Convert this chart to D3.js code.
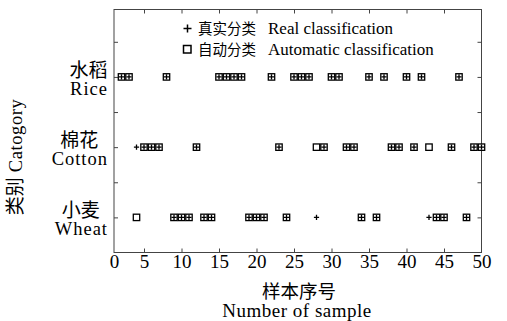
<!DOCTYPE html>
<html>
<head>
<meta charset="utf-8">
<script src="https://cdn.jsdelivr.net/npm/d3@7"></script>
<style>
  html, body { margin: 0; padding: 0; background: #fff; }
  svg { display: block; }
</style>
</head>
<body>
<svg id="chart" width="507" height="321"></svg>
<script>
// ---- data ----
const categories = ["Wheat", "Cotton", "Rice"];
const categoriesZh = ["小麦", "棉花", "水稻"];
const categoryLevel = [1, 2, 3];
const sampleIds = [2,3,4,5,6,7,8,9,10,11,12,13,14,15,16,17,18,19,20,21,22,23,24,25,26,
                   27,28,29,30,31,32,33,34,35,36,37,38,39,40,41,42,43,44,45,46,47,48,49,50];
const realClass = ["Rice","Rice","Cotton","Cotton","Cotton","Cotton","Rice","Wheat","Wheat","Wheat",
                   "Cotton","Wheat","Wheat","Rice","Rice","Rice","Rice","Wheat","Wheat","Wheat",
                   "Rice","Cotton","Wheat","Rice","Rice","Rice","Wheat","Cotton","Rice","Rice",
                   "Cotton","Cotton","Wheat","Rice","Wheat","Rice","Cotton","Cotton","Rice","Cotton",
                   "Rice","Wheat","Wheat","Wheat","Cotton","Rice","Wheat","Cotton","Cotton"];
const autoClass = ["Rice","Rice","Wheat","Cotton","Cotton","Cotton","Rice","Wheat","Wheat","Wheat",
                   "Cotton","Wheat","Wheat","Rice","Rice","Rice","Rice","Wheat","Wheat","Wheat",
                   "Rice","Cotton","Wheat","Rice","Rice","Rice","Cotton","Cotton","Rice","Rice",
                   "Cotton","Cotton","Wheat","Rice","Wheat","Rice","Cotton","Cotton","Rice","Cotton",
                   "Rice","Cotton","Wheat","Wheat","Cotton","Rice","Wheat","Cotton","Cotton"];
const xTickValues = [1, 5, 10, 15, 20, 25, 30, 35, 40, 45, 50];
const xTickLabels = ["0", "5", "10", "15", "20", "25", "30", "35", "40", "45", "50"];
const yTickValues = [1, 1.5, 2, 2.5, 3, 3.5];
const legendZh = ["真实分类", "自动分类"];
const legendEn = ["Real classification", "Automatic classification"];

(function () {
// ---- layout ----
const svg = d3.select("#chart");
const pL = 114, pR = 481.5, pT = 9.5, pB = 252.5;
const serif = "'Liberation Serif', 'Times New Roman', serif";
const cjk = "'Noto Sans CJK SC', sans-serif";
const axisColor = "#444";

const x = d3.scaleLinear().domain([1, 50]).range([pL, pR]);
const y = d3.scaleLinear().domain([0.5, 3.96]).range([pB, pT]);
const levelOf = c => categoryLevel[categories.indexOf(c)];

// frame
svg.append("rect").attr("x", pL).attr("y", pT)
  .attr("width", pR - pL).attr("height", pB - pT)
  .attr("fill", "none").attr("stroke", axisColor).attr("stroke-width", 1);

function styleAxis(g) {
  g.select(".domain").remove();
  g.selectAll(".tick line").attr("stroke", axisColor).attr("stroke-width", 1);
}

// bottom axis
const gx = svg.append("g").attr("transform", `translate(0,${pB})`)
  .call(d3.axisBottom(x).tickValues(xTickValues)
    .tickFormat((d, i) => xTickLabels[i]).tickSize(-4).tickSizeOuter(0).tickPadding(1.5));
styleAxis(gx);
gx.selectAll(".tick text").attr("font-family", serif).attr("font-size", 19)
  .attr("fill", "#000");
gx.selectAll(".tick").filter(d => d === 1 || d === 50).select("line").remove();

// top axis
const gt = svg.append("g").attr("transform", `translate(0,${pT})`)
  .call(d3.axisTop(x).tickValues(xTickValues.slice(1, -1)).tickFormat("").tickSize(-4).tickSizeOuter(0));
styleAxis(gt);

// left / right axes
const gl = svg.append("g").attr("transform", `translate(${pL},0)`)
  .call(d3.axisLeft(y).tickValues(yTickValues).tickFormat("").tickSize(-4).tickSizeOuter(0));
styleAxis(gl);
const gr = svg.append("g").attr("transform", `translate(${pR},0)`)
  .call(d3.axisRight(y).tickValues(yTickValues).tickFormat("").tickSize(-4).tickSizeOuter(0));
styleAxis(gr);

// category labels
categories.forEach((c, i) => {
  const yy = y(categoryLevel[i]);
  const en = svg.append("text").attr("x", 108).attr("y", yy + 18)
    .attr("text-anchor", "end").attr("font-family", serif).attr("font-size", 18.5)
    .attr("letter-spacing", 1).text(c);
  const w = en.node().getComputedTextLength();
  svg.append("text").attr("x", 108 - w / 2 - 0.5).attr("y", yy)
    .attr("text-anchor", "middle").attr("font-family", cjk).attr("font-size", 19)
    .text(categoriesZh[i]);
});

// y title
const yt = svg.append("text").attr("transform", "translate(22,157) rotate(-90)")
  .attr("text-anchor", "middle");
yt.append("tspan").attr("font-family", cjk).attr("font-size", 19).text("类别");
yt.append("tspan").attr("font-family", serif).attr("font-size", 18.5).attr("dx", 5)
  .attr("letter-spacing", 0.6).text("Catogory");

// x title
svg.append("text").attr("x", 299).attr("y", 298).attr("text-anchor", "middle")
  .attr("font-family", cjk).attr("font-size", 18.5).text("样本序号");
svg.append("text").attr("x", 297).attr("y", 316.5).attr("text-anchor", "middle")
  .attr("font-family", serif).attr("font-size", 19).attr("letter-spacing", 0.5)
  .text("Number of sample");

// markers
const sq = 6.4, pl = 2.6;
const autoPts = sampleIds.map((s, i) => ({ s, c: autoClass[i] }));
const realPts = sampleIds.map((s, i) => ({ s, c: realClass[i] }));

svg.append("g").selectAll("rect").data(autoPts).join("rect")
  .attr("x", d => x(d.s) - sq / 2).attr("y", d => y(levelOf(d.c)) - sq / 2)
  .attr("width", sq).attr("height", sq)
  .attr("fill", "#fff").attr("stroke", "#000").attr("stroke-width", 1.3);

svg.append("g").selectAll("path").data(realPts).join("path")
  .attr("d", d => {
    const cx = x(d.s), cy = y(levelOf(d.c));
    return `M${cx - pl},${cy}H${cx + pl}M${cx},${cy - pl}V${cy + pl}`;
  })
  .attr("stroke", "#000").attr("stroke-width", 1.3).attr("fill", "none");

// legend
const lg = svg.append("g");
lg.append("path").attr("d", "M183.5,28.5H191.5M187.5,24.5V32.5")
  .attr("stroke", "#000").attr("stroke-width", 1.5);
lg.append("rect").attr("x", 183.5).attr("y", 45.5).attr("width", 7.5).attr("height", 7.5)
  .attr("fill", "#fff").attr("stroke", "#000").attr("stroke-width", 1.5);
[0, 1].forEach(i => {
  const by = 33.5 + i * 21;
  lg.append("text").attr("x", 198).attr("y", by).attr("font-family", cjk)
    .attr("font-size", 14.5).text(legendZh[i]);
  lg.append("text").attr("x", 268).attr("y", by).attr("font-family", serif)
    .attr("font-size", 17).text(legendEn[i]);
});
})();
</script>
</body>
</html>
